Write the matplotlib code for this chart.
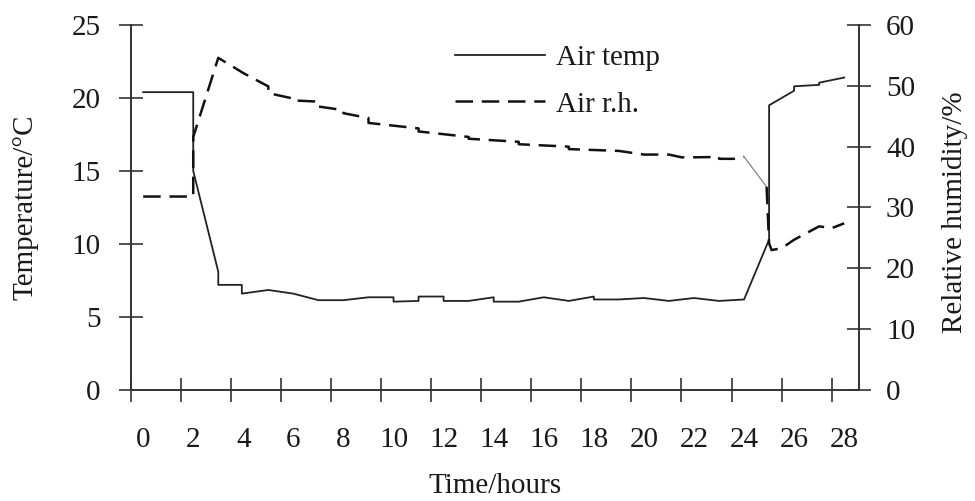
import matplotlib
matplotlib.use("Agg")
import matplotlib.pyplot as plt

# Data
temp_hours = [0, 2, 2, 3, 3, 3.94, 3.94, 5, 6, 7, 8, 9, 10, 10, 11, 11, 12, 12, 13,
              14, 14, 15, 16, 17, 18, 18, 19, 20, 21, 22, 23, 24, 25, 25, 26, 26,
              27, 27, 28]
air_temp = [20.4, 20.4, 15.0, 8.1, 7.2, 7.2, 6.6, 6.85, 6.6, 6.15, 6.15, 6.35, 6.35,
            6.05, 6.1, 6.4, 6.4, 6.1, 6.1, 6.35, 6.05, 6.05, 6.35, 6.1, 6.4, 6.2,
            6.2, 6.3, 6.1, 6.3, 6.1, 6.2, 10.3, 19.5, 20.5, 20.8, 20.9, 21.05, 21.4]

rh_hours = [0, 2, 2, 3, 4, 5, 5, 6, 6, 7, 7, 8, 8, 9, 9, 11, 11, 13, 13, 15, 15, 17,
            17, 19, 20, 21, 21.5, 22, 23, 23, 23.6, 24, 24.9, 25, 25.1, 25.5, 26,
            27, 27.5, 28]
air_rh = [31.8, 31.8, 41.6, 54.6, 52.1, 49.9, 48.8, 47.9, 47.6, 47.4, 46.6, 46.0,
          45.5, 44.7, 43.9, 43.0, 42.5, 41.6, 41.3, 40.8, 40.4, 40.0, 39.6, 39.3,
          38.7, 38.7, 38.25, 38.25, 38.3, 38.0, 38.0, 38.35, 33.4, 24.1, 23.0, 23.3,
          24.7, 26.9, 26.6, 27.4]

x_ticks = list(range(0, 29, 2))
tick_marks = [t - 0.5 for t in x_ticks]
temp_ticks = [0, 5, 10, 15, 20, 25]
rh_ticks = [0, 10, 20, 30, 40, 50, 60]

plt.rcParams['font.family'] = ['Liberation Serif', 'DejaVu Serif']
txt = '#1a1a1a'
fs = 21

fig = plt.figure(figsize=(9.75, 5.01), dpi=100)
ax = fig.add_axes([0.134, 0.2216, 0.747, 0.7285])
ax2 = ax.twinx()

# temperature (left axis)
l1, = ax.plot(temp_hours, air_temp, color='#222222', lw=1.3, label='Air temp')

# relative humidity (right axis), thin segment where the dashes fade
i = rh_hours.index(24)
l2, = ax2.plot(rh_hours[:i + 1], air_rh[:i + 1], color='#111111', lw=1.8,
               dashes=(7, 3.5), label='Air r.h.')
ax2.plot(rh_hours[i:i + 2], air_rh[i:i + 2], color='#777777', lw=0.8)
ax2.plot(rh_hours[i + 1:], air_rh[i + 1:], color='#111111', lw=1.8, dashes=(7, 3.5))

ax.set_xlim(-0.5, 28.59)
ax.set_ylim(0, 25)
ax2.set_ylim(0, 60)

ax.set_xticks(x_ticks)
ax.set_xticklabels([str(t) for t in x_ticks])
ax.set_xticks(tick_marks, minor=True)
ax.tick_params(axis='x', which='major', length=0, pad=27, labelsize=fs, labelcolor=txt)
ax.tick_params(axis='x', which='minor', direction='inout', length=17, width=1.2,
               color='#333333')
ax.set_yticks(temp_ticks)
ax.tick_params(axis='y', direction='inout', length=17, width=1.2, pad=13,
               labelsize=fs, labelcolor=txt, color='#333333')
ax2.set_yticks(rh_ticks)
ax2.tick_params(axis='y', direction='inout', length=17, width=1.2, pad=11,
                labelsize=fs, labelcolor=txt, color='#333333')

for a in (ax, ax2):
    a.spines['top'].set_visible(False)
    for s in ('left', 'right', 'bottom'):
        a.spines[s].set_color('#333333')
        a.spines[s].set_linewidth(1.2)

fig.text(26 / 975, 1 - 207 / 501, 'Temperature/°C', rotation=90, ha='center',
         va='center', fontsize=fs, color=txt)
fig.text(955 / 975, 1 - 212 / 501, 'Relative humidity/%', rotation=90, ha='center',
         va='center', fontsize=fs, color=txt)
fig.text(495 / 975, 1 - 486 / 501, 'Time/hours', ha='center', va='center',
         fontsize=fs, color=txt)

ax2.legend(handles=[l1, l2], loc='upper left', bbox_to_anchor=(455 / 975, 1 - 45 / 501),
           bbox_transform=fig.transFigure, frameon=False, borderpad=0,
           borderaxespad=0, handlelength=3.1, handletextpad=0.35,
           labelspacing=0.68, fontsize=fs, labelcolor=txt)

fig.savefig('out.png', dpi=100)
